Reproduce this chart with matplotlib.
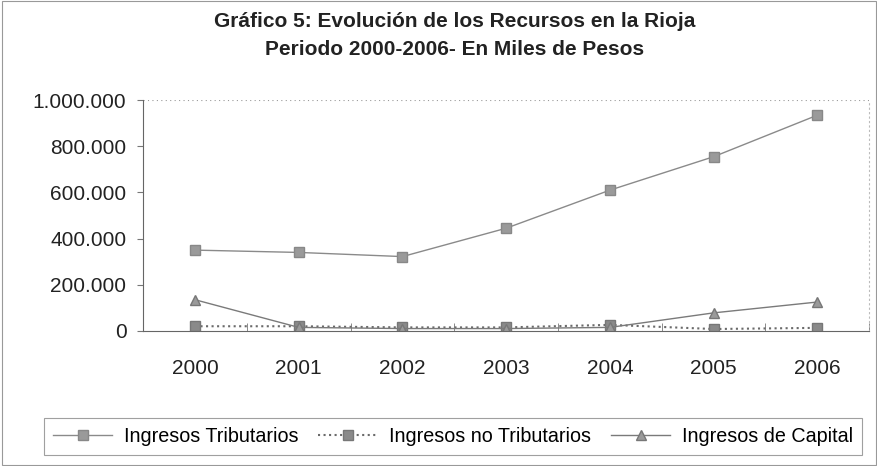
import numpy as np
import matplotlib.pyplot as plt
from matplotlib.patches import Rectangle

plt.rcParams['font.family'] = ['Liberation Sans', 'DejaVu Sans']

years = ['2000', '2001', '2002', '2003', '2004', '2005', '2006']
tributarios = [350000, 340000, 322000, 445000, 610000, 755000, 935000]
no_tributarios = [20000, 20000, 15000, 15000, 26000, 8000, 13000]
capital = [135000, 15000, 10000, 10000, 15000, 78000, 125000]
yticks = [0, 200000, 400000, 600000, 800000, 1000000]
ytick_labels = ['0', '200.000', '400.000', '600.000', '800.000', '1.000.000']

fig = plt.figure(figsize=(8.78, 4.66), dpi=100)
ax = fig.add_axes([0.163, 0.290, 0.827, 0.495])

x = np.arange(len(years))
ax.plot(x, tributarios, '-', color='#8a8a8a', lw=1.0, marker='s', ms=6.5,
        mfc='#9a9a9a', mec='#888888', label='Ingresos Tributarios')
ax.plot(x, no_tributarios, ':', color='#6a6a6a', lw=1.5, marker='s', ms=6.5,
        mfc='#8a8a8a', mec='#777777', label='Ingresos no Tributarios')
ax.plot(x, capital, '-', color='#7a7a7a', lw=1.0, marker='^', ms=7.5,
        mfc='#9a9a9a', mec='#777777', label='Ingresos de Capital')

ax.set_xlim(-0.5, 6.5)
ax.set_ylim(0, 1000000)
ax.set_xticks(x)
ax.set_xticklabels(years, fontsize=15, color='#222222')
ax.set_xticks(np.arange(-0.5, 7, 1), minor=True)
ax.tick_params(axis='x', which='major', length=0, pad=20)
ax.tick_params(axis='x', which='minor', length=6, direction='in', color='#777777')
ax.set_yticks(yticks)
ax.set_yticklabels(ytick_labels, fontsize=15, color='#222222')
ax.tick_params(axis='y', length=4, color='#777777', pad=8)

ax.axhline(1000000, color='#999999', lw=0.8, ls=(0, (1, 3)))
ax.spines['top'].set_visible(False)
ax.spines['right'].set_color('#bbbbbb')
ax.spines['right'].set_linestyle((0, (1, 3)))
ax.spines['left'].set_color('#666666')
ax.spines['bottom'].set_color('#666666')

fig.suptitle('Gráfico 5: Evolución de los Recursos en la Rioja\nPeriodo 2000-2006- En Miles de Pesos',
             y=0.975, x=0.518, fontsize=15, fontweight='bold', color='#222222', linespacing=1.6)

leg = fig.legend(loc='center', bbox_to_anchor=(0.516, 0.064), ncol=3, fontsize=14.2,
                 frameon=True, fancybox=False, edgecolor='#888888', handlelength=3.0,
                 columnspacing=1.0, handletextpad=0.6, borderpad=0.45)
leg.get_frame().set_linewidth(0.8)

fig.patches.append(Rectangle((0.002, 0.002), 0.996, 0.996, transform=fig.transFigure,
                             fill=False, edgecolor='#999999', lw=0.8))

fig.savefig('out.png', dpi=100)
